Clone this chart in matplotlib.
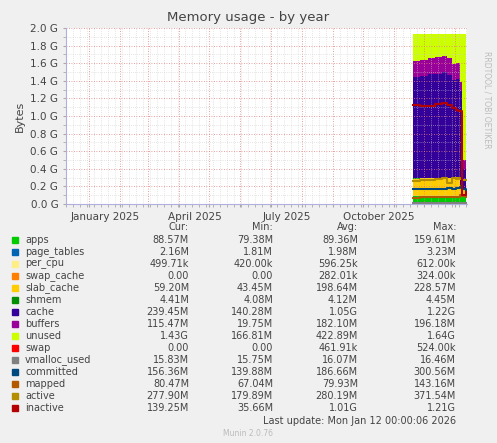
import matplotlib
matplotlib.use("Agg")
import matplotlib.pyplot as plt
import numpy as np
import datetime as dt

# --- data (values in MB) ---
dates = ["2025-11-20","2025-11-27","2025-12-05","2025-12-12","2025-12-19","2025-12-24",
         "2025-12-29","2026-01-02","2026-01-04","2026-01-06","2026-01-08","2026-01-12"]
apps        = [92, 90, 91, 89, 93, 90, 88, 89, 88, 88, 89, 88.6]
page_tables = [2, 2, 2, 2, 2, 2, 2, 2, 2, 2.2, 2.2, 2.2]
per_cpu     = [0.6, 0.6, 0.6, 0.6, 0.6, 0.6, 0.6, 0.6, 0.5, 0.5, 0.5, 0.5]
swap_cache  = [0.3, 0.3, 0.3, 0.3, 0.3, 0.3, 0.3, 0.3, 0.3, 0.2, 0.1, 0.0]
slab_cache  = [200, 205, 210, 212, 215, 205, 215, 220, 215, 120, 70, 59]
shmem       = [4.1, 4.1, 4.1, 4.1, 4.1, 4.1, 4.2, 4.2, 4.3, 4.4, 4.4, 4.4]
cache       = [1180, 1190, 1200, 1210, 1220, 1200, 1130, 1140, 1150, 1100, 240, 239]
buffers     = [180, 185, 190, 190, 190, 195, 185, 185, 180, 100, 110, 115]
total_mem   = 1975
swap        = [0, 0, 0, 0, 0, 0, 0, 0, 0.5, 0, 0, 0]
vmalloc_used= [16, 16, 16, 16, 16, 16, 16, 16, 16, 16, 16, 15.8]
committed   = [170, 172, 175, 178, 180, 185, 180, 185, 190, 200, 170, 156]
mapped      = [75, 76, 80, 78, 80, 82, 80, 78, 80, 100, 90, 80]
active      = [270, 275, 285, 290, 300, 250, 300, 290, 300, 290, 280, 278]
inactive    = [1150, 1140, 1140, 1160, 1180, 1150, 1120, 1090, 1080, 1080, 100, 139]

names = ["apps","page_tables","per_cpu","swap_cache","slab_cache","shmem","cache",
         "buffers","unused","swap","vmalloc_used","committed","mapped","active","inactive"]
cur = ["88.57M","2.16M","499.71k","0.00","59.20M","4.41M","239.45M","115.47M","1.43G","0.00",
       "15.83M","156.36M","80.47M","277.90M","139.25M"]
mn  = ["79.38M","1.81M","420.00k","0.00","43.45M","4.08M","140.28M","19.75M","166.81M","0.00",
       "15.75M","139.88M","67.04M","179.89M","35.66M"]
avg = ["89.36M","1.98M","596.25k","282.01k","198.64M","4.12M","1.05G","182.10M","422.89M","461.91k",
       "16.07M","186.66M","79.93M","280.19M","1.01G"]
mx  = ["159.61M","3.23M","612.00k","324.00k","228.57M","4.45M","1.22G","196.18M","1.64G","524.00k",
       "16.46M","300.56M","143.16M","371.54M","1.21G"]
colors = ["#00cc00","#0066b3","#ffee88","#ff8000","#ffcc00","#008f00","#330099","#990099",
          "#ccff00","#ff0000","#808080","#00487d","#b35a00","#b38f00","#b30000"]

x = [dt.datetime.strptime(d, "%Y-%m-%d") for d in dates]
M = 1e6 * 1.048576
stack_parts = [apps, page_tables, per_cpu, swap_cache, slab_cache, shmem, cache, buffers]
s = np.array(stack_parts, dtype=float)
unused = total_mem - s.sum(axis=0)
layers = list(s) + [unused, np.array(swap, float)]

fig = plt.figure(figsize=(4.97, 4.43), dpi=100, facecolor="#f0f0f0")
ax = fig.add_axes([66/497, 1-204/443, 401/497, 176/443])
ax.set_facecolor("white")
base = np.zeros(len(x))
for i, l in enumerate(layers):
    ax.fill_between(x, base*M, (base+l)*M, color=colors[i], step="post", lw=0)
    base = base + l
for i, l in enumerate([vmalloc_used, committed, mapped, active, inactive]):
    ax.step(x, np.array(l)*M, where="post", color=colors[10+i], lw=1.5)

ax.set_xlim(dt.datetime(2024,12,9), dt.datetime(2026,1,13))
ax.set_ylim(0, 2.0e9*1.073741824)
yt = np.arange(0, 2.01, 0.2)
ax.set_yticks(yt*1.073741824e9)
ax.set_yticklabels([f"{v:.1f} G" for v in yt], fontsize=7.5, color="#444")
ax.set_yticks(np.arange(0.1, 2.0, 0.2)*1.073741824e9, minor=True)
ax.set_xticks([dt.datetime(2025,m,1) for m in range(1,13)] + [dt.datetime(2026,1,1)])
ax.set_xticklabels([])
ax.set_xticks([dt.datetime(2024,12,9)+dt.timedelta(days=7*k) for k in range(58)], minor=True)
for lab, d in [("January 2025",(2025,1,17)),("April 2025",(2025,4,17)),("July 2025",(2025,7,17)),("October 2025",(2025,10,17))]:
    ax.text(dt.datetime(*d), -0.1e9, lab, ha="center", va="top", fontsize=7.5, color="#444")
ax.grid(True, which="major", axis="x", color="#e08080", ls=(0,(1,2)), lw=0.6)
ax.grid(True, which="minor", axis="x", color="#cccccc", ls=(0,(1,2)), lw=0.5)
ax.grid(True, which="major", axis="y", color="#e08080", ls=(0,(1,2)), lw=0.6)
ax.grid(True, which="minor", axis="y", color="#cccccc", ls=(0,(1,2)), lw=0.5)
ax.tick_params(length=2, colors="#aaa", which="both")
ax.tick_params(axis="y", labelcolor="#444")
for sp in ["top","right"]:
    ax.spines[sp].set_visible(False)
for sp in ["left","bottom"]:
    ax.spines[sp].set_color("#b0b0e0")
ax.set_ylabel("Bytes", fontsize=8, color="#444")

fig.text(248/497, 1-18/443, "Memory usage - by year", ha="center", va="center", fontsize=9.5, color="#444")
fig.text(487/497, 1-100/443, "RRDTOOL / TOBI OETIKER", rotation=270, ha="center", va="center", fontsize=5.5, color="#bbb")

fs = 7
def Y(py): return 1 - py/443
for lab, px in [("Cur:",189),("Min:",273),("Avg:",358),("Max:",456)]:
    fig.text(px/497, Y(227), lab, ha="right", va="center", fontsize=fs, color="#444")
for i, n in enumerate(names):
    py = 240 + i*12
    fig.patches.append(plt.Rectangle((12/497, Y(py)-3/443), 6/497, 6/443, transform=fig.transFigure,
                                     color=colors[i], figure=fig))
    fig.text(25/497, Y(py), n, va="center", fontsize=fs, color="#444")
    for vals, px in [(cur,189),(mn,273),(avg,358),(mx,456)]:
        fig.text(px/497, Y(py), vals[i], ha="right", va="center", fontsize=fs, color="#444")
fig.text(456/497, Y(421), "Last update: Mon Jan 12 00:00:06 2026", ha="right", va="center", fontsize=fs, color="#444")
fig.text(248/497, Y(434), "Munin 2.0.76", ha="center", va="center", fontsize=5.5, color="#bbb")
fig.savefig("out.png", dpi=100, facecolor=fig.get_facecolor())
